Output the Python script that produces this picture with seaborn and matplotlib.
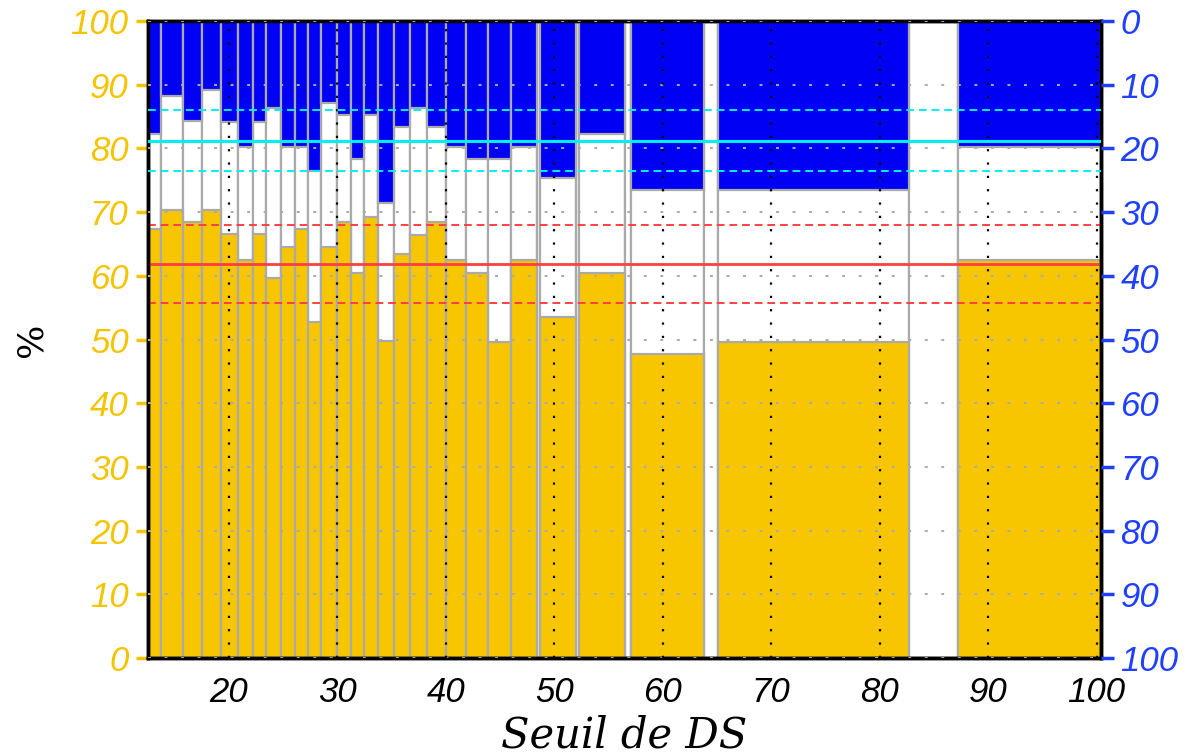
import matplotlib

matplotlib.use("Agg")
import matplotlib.pyplot as plt
import seaborn as sns


# bin edges along the DS threshold axis (some narrow bins are empty)
BIN_EDGES = [
    12.53, 13.76, 15.79, 17.55, 19.26, 20.80, 22.19, 23.45, 24.77, 26.06,
    27.29, 28.46, 29.91, 31.25, 32.45, 33.75, 35.19, 36.67, 38.27, 39.99,
    41.81, 43.89, 45.96, 48.39, 48.71, 51.98, 52.26, 56.50, 57.05, 63.79,
    65.11, 82.73, 87.25, 100.41,
]

# yellow part, read on the left axis (0 at bottom)
YELLOW_PCT = [
    67.4, 70.4, 68.5, 70.4, 66.5, 62.5, 66.5, 59.6, 64.5, 67.4,
    52.7, 64.5, 68.5, 60.4, 69.3, 49.7, 63.5, 66.4, 68.5, 62.5,
    60.4, 49.6, 62.5, 0.0, 53.5, 0.0, 60.4, 0.0, 47.7, 0.0,
    49.6, 0.0, 62.5,
]

# blue part, read on the right axis (0 at top)
BLUE_PCT = [
    17.7, 11.8, 15.7, 10.8, 15.8, 19.7, 15.8, 13.7, 19.7, 19.7,
    23.6, 12.9, 14.7, 21.7, 14.7, 28.6, 16.7, 13.7, 16.7, 19.7,
    21.7, 21.7, 19.7, 0.0, 24.6, 0.0, 17.7, 0.0, 26.6, 0.0,
    26.6, 0.0, 19.7,
]

FULL_PCT = 100

RED_MEAN = 61.9
RED_BAND = [67.9, 55.8]
CYAN_MEAN = 18.8
CYAN_BAND = [13.9, 23.6]

X_TICKS = [20, 30, 40, 50, 60, 70, 80, 90, 100]
Y_TICKS = [0, 10, 20, 30, 40, 50, 60, 70, 80, 90, 100]

YELLOW = "#F8C600"
BLUE = "#0000F5"
GOLD_TXT = "#F5C400"
BLUE_TXT = "#2040FF"
EDGE = "#AAAAAA"
RED = "#FF4040"
CYAN = "#00F0F0"

centers = [(a + b) / 2 for a, b in zip(BIN_EDGES[:-1], BIN_EDGES[1:])]

sns.set_style("white")
plt.rcParams["font.family"] = ["Liberation Sans", "DejaVu Sans"]

fig = plt.figure(figsize=(11.88, 7.56), dpi=100)
ax = fig.add_axes([0.1246, 0.1296, 0.8022, 0.8426])

hist_kw = dict(bins=BIN_EDGES, edgecolor=EDGE, linewidth=1.6, alpha=1)
sns.histplot(x=centers, weights=[FULL_PCT] * len(centers), color="white", ax=ax, **hist_kw)
sns.histplot(x=centers, weights=YELLOW_PCT, color=YELLOW, ax=ax, **hist_kw)

for level in RED_BAND:
    ax.axhline(level, color=RED, linewidth=1.4, linestyle=(0, (4, 2.5)), zorder=5)
ax.axhline(RED_MEAN, color=RED, linewidth=2, zorder=5)

ax2 = ax.twinx()
sns.histplot(x=centers, weights=BLUE_PCT, color=BLUE, ax=ax2, **hist_kw)

for level in CYAN_BAND:
    ax2.axhline(level, color=CYAN, linewidth=1.4, linestyle=(0, (4, 2.5)), zorder=5)
ax2.axhline(CYAN_MEAN, color=CYAN, linewidth=2.2, zorder=5)

# dotted grids drawn above the bars
for xv in X_TICKS:
    ax2.axvline(xv, color="black", linewidth=1.6, linestyle=(0, (1, 5)), zorder=4)
ax2.set_axisbelow(False)
ax2.yaxis.grid(True, color=EDGE, linewidth=1.4, linestyle=(0, (1.5, 7)))

ax.set_xlim(BIN_EDGES[0], BIN_EDGES[-1])
ax.set_ylim(0, 100)
ax2.set_ylim(100, 0)

ax.set_xticks(X_TICKS)
ax.set_yticks(Y_TICKS)
ax2.set_yticks(Y_TICKS)

ax.tick_params(axis="x", colors="black", length=8, width=2, direction="out",
               labelsize=25, pad=5)
ax.tick_params(axis="y", colors=GOLD_TXT, length=9, width=2.5, direction="out",
               labelsize=25, pad=5)
ax2.tick_params(axis="y", colors=BLUE_TXT, length=9, width=2.5, direction="out",
                labelsize=25, pad=5)
for lbl in ax.get_xticklabels() + ax.get_yticklabels() + ax2.get_yticklabels():
    lbl.set_style("italic")

for a in (ax, ax2):
    for spine in a.spines.values():
        spine.set_color("black")
        spine.set_linewidth(2.5)
        spine.set_visible(True)

ax.set_ylabel("")
ax2.set_ylabel("")
ax.set_xlabel("Seuil de DS", fontsize=30, family="DejaVu Serif", style="italic",
              color="black", labelpad=4)
fig.text(32 / 1188, 0.551, "%", rotation=90, ha="center", va="center",
         fontsize=26, family="DejaVu Serif", color="black")

fig.savefig("out.png", dpi=100)
